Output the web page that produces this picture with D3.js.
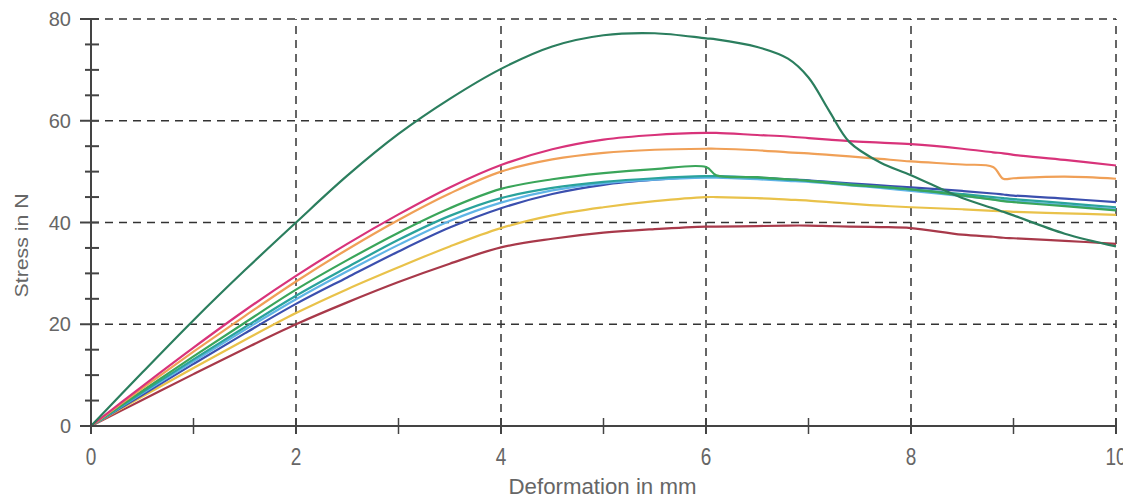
<!DOCTYPE html>
<html>
<head>
<meta charset="utf-8">
<script src="https://cdn.jsdelivr.net/npm/d3@7"></script>
<style>
body{margin:0;background:#fff;}
svg{display:block;}
</style>
</head>
<body>
<script>
var w=1123,h=497;
var margin={left:91,top:19,right:7,bottom:71};

// deformation in mm (shared x grid)
var deformation=[0,0.5,1,1.5,2,2.5,3,3.5,4,4.5,5,5.5,6,6.1,6.5,6.8,7,7.2,7.4,7.7,8,8.5,8.8,8.9,9,9.5,10];

// stress in N, one array per specimen
var s1=[0,10.5,20.8,30.6,40,49.2,57.4,64.3,70.2,74.6,76.8,77.2,76.2,76,74.5,72.2,68.5,62,55.8,51.8,49.3,44.8,42.8,42.1,41.4,37.8,35.3];
var s2=[0,7.8,15.4,22.7,29.5,35.8,41.6,46.9,51.3,54.4,56.3,57.2,57.6,57.6,57.2,56.9,56.6,56.3,56,55.7,55.4,54.5,53.8,53.6,53.3,52.3,51.2];
var s3=[0,7.4,14.6,21.6,28.4,34.7,40.5,45.7,50,52.4,53.7,54.3,54.5,54.5,54.2,53.8,53.6,53.3,53,52.5,52,51.4,50.9,48.6,48.7,49,48.6];
var s4=[0,6.9,13.7,20.3,26.8,32.6,38,42.8,46.6,48.5,49.7,50.5,50.9,49.3,48.9,48.5,48.2,47.8,47.4,47,46.5,45.3,44.5,44.2,44,43.2,42.4];
var s5=[0,6.6,13.1,19.4,25.6,31.2,36.6,41.3,44.8,46.8,48,48.7,49.1,49.1,48.8,48.4,48.2,47.9,47.5,47,46.5,45.6,45,44.8,44.6,43.8,43];
var s6=[0,6.4,12.7,18.9,24.9,30.4,35.6,40.3,43.9,46.3,47.7,48.4,48.8,48.8,48.5,48.2,48,47.7,47.3,46.8,46.2,45.2,44.6,44.4,44.2,43.4,42.6];
var s7=[0,6.1,12.2,18.2,24,29.2,34.3,39,42.8,45.6,47.4,48.4,49,49,48.8,48.5,48.3,48,47.7,47.3,46.9,46.2,45.7,45.5,45.3,44.7,44];
var s8=[0,5.8,11.4,16.9,22.2,26.9,31.2,35.3,38.9,41.4,43,44.2,45,45,44.8,44.5,44.3,44,43.7,43.3,43,42.6,42.3,42.2,42.1,41.8,41.5];
var s9=[0,5.1,10.2,15.2,20,24.3,28.3,31.9,35.1,36.8,38,38.7,39.2,39.2,39.3,39.4,39.4,39.3,39.2,39.1,38.9,37.6,37.2,37,36.9,36.4,35.8];

var series=[s9,s8,s7,s6,s5,s4,s3,s2,s1];
var colors=['#a8394a','#e9c24a','#3b4fae','#5fb4e6','#2aa39c','#3aa55a','#f0a057','#d8337a','#2b7e5e'];

var xTicks=[0,2,4,6,8,10];
var yTicks=[0,20,40,60,80];
var xMinor=[1,3,5,7,9];
var yMinor=[5,10,15,25,30,35,45,50,55,65,70,75];

var x=d3.scaleLinear().domain([0,10]).range([margin.left,w-margin.right]);
var y=d3.scaleLinear().domain([0,80]).range([h-margin.bottom,margin.top]);

var svg=d3.select('body').append('svg').attr('width',w).attr('height',h);

// dashed grid
svg.selectAll('.gx').data(xTicks.slice(1)).enter().append('line')
  .attr('x1',function(d){return x(d);}).attr('x2',function(d){return x(d);})
  .attr('y1',y(0)).attr('y2',y(80))
  .attr('stroke','#333').attr('stroke-width',1.5).attr('stroke-dasharray','8,6');
svg.selectAll('.gy').data(yTicks.slice(1)).enter().append('line')
  .attr('x1',x(0)).attr('x2',x(10))
  .attr('y1',function(d){return y(d);}).attr('y2',function(d){return y(d);})
  .attr('stroke','#333').attr('stroke-width',1.5).attr('stroke-dasharray','8,6');

// curves
var line=d3.line().x(function(d){return x(d[0]);}).y(function(d){return y(d[1]);}).curve(d3.curveCatmullRom.alpha(0.5));
series.forEach(function(s,i){
  svg.append('path')
    .datum(deformation.map(function(dx,j){return [dx,s[j]];}))
    .attr('d',line).attr('fill','none')
    .attr('stroke',colors[i]).attr('stroke-width',2.2);
});

// axes lines
var axisCol='#444';
svg.append('line').attr('x1',x(0)).attr('x2',x(0)).attr('y1',y(0)).attr('y2',y(80)).attr('stroke',axisCol).attr('stroke-width',2);
svg.append('line').attr('x1',x(0)).attr('x2',x(10)).attr('y1',y(0)).attr('y2',y(0)).attr('stroke',axisCol).attr('stroke-width',2);

// y ticks
svg.selectAll('.ytm').data(yTicks).enter().append('line')
  .attr('x1',x(0)-11).attr('x2',x(0)+8)
  .attr('y1',function(d){return y(d);}).attr('y2',function(d){return y(d);})
  .attr('stroke',axisCol).attr('stroke-width',2);
svg.selectAll('.ytn').data(yMinor).enter().append('line')
  .attr('x1',x(0)-6).attr('x2',x(0)+8)
  .attr('y1',function(d){return y(d);}).attr('y2',function(d){return y(d);})
  .attr('stroke',axisCol).attr('stroke-width',2);
// x ticks
svg.selectAll('.xtm').data(xTicks).enter().append('line')
  .attr('x1',function(d){return x(d);}).attr('x2',function(d){return x(d);})
  .attr('y1',y(0)-8).attr('y2',y(0)+8)
  .attr('stroke',axisCol).attr('stroke-width',2);
svg.selectAll('.xtn').data(xMinor).enter().append('line')
  .attr('x1',function(d){return x(d);}).attr('x2',function(d){return x(d);})
  .attr('y1',y(0)-8).attr('y2',y(0)+8)
  .attr('stroke',axisCol).attr('stroke-width',1.5);

// tick labels
var font='"Liberation Sans", Arial, sans-serif';
svg.selectAll('.yl').data(yTicks).enter().append('text')
  .text(function(d){return d;})
  .attr('x',71).attr('y',function(d){return y(d)+7;})
  .attr('text-anchor','end')
  .style('font-family',font).style('font-size','20px').style('fill','#666');
svg.selectAll('.xl').data(xTicks).enter().append('text')
  .text(function(d){return d;})
  .attr('transform',function(d){return 'translate('+x(d)+',465) scale(1,1.3)';})
  .attr('text-anchor','middle')
  .style('font-family',font).style('font-size','19px').style('fill','#666');

// axis titles
svg.append('text').text('Deformation in mm')
  .attr('transform','translate('+(x(5)-1)+',494) scale(1,1.15)')
  .attr('text-anchor','middle')
  .attr('textLength',188).attr('lengthAdjust','spacingAndGlyphs')
  .style('font-family',font).style('font-size','19px').style('fill','#666');
svg.append('text').text('Stress in N')
  .attr('transform','translate(28,'+y(35.5)+') rotate(-90)')
  .attr('text-anchor','middle')
  .attr('textLength',104).attr('lengthAdjust','spacingAndGlyphs')
  .style('font-family',font).style('font-size','18px').style('fill','#666');
</script>
</body>
</html>
